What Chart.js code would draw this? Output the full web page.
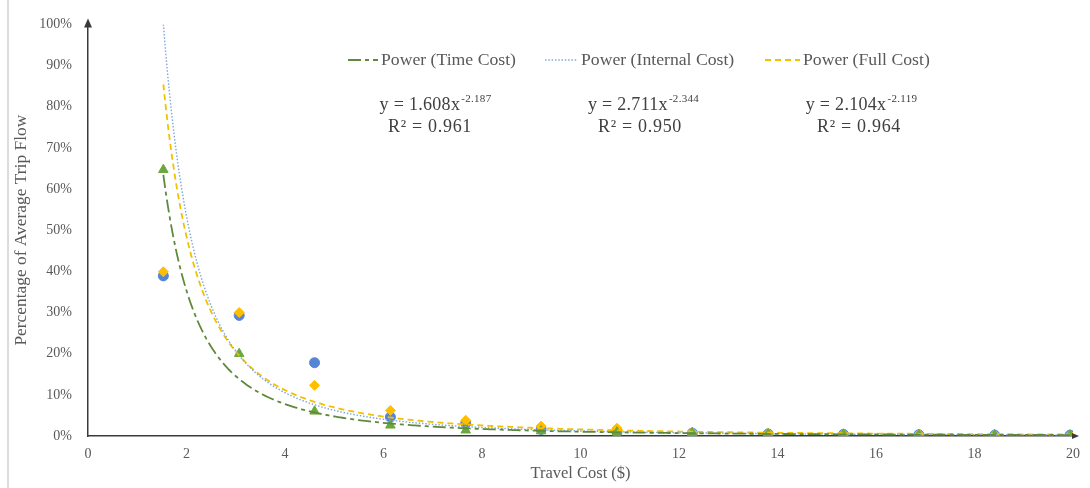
<!DOCTYPE html>
<html>
<head>
<meta charset="utf-8">
<script src="https://cdn.jsdelivr.net/npm/chart.js@4.4.1/dist/chart.umd.min.js"></script>
<style>
  html, body { margin: 0; padding: 0; background: #ffffff; }
  #wrap { position: relative; width: 1090px; height: 488px; }
  #edge { position: absolute; left: 7px; top: 0; width: 2px; height: 488px; background: #dcdcdc; }
</style>
</head>
<body>
<div id="wrap">
  <div id="edge"></div>
  <canvas id="chart" width="1090" height="488"></canvas>
</div>
<script>
// Travel cost ($) at each observation
const travelCost = [1.53, 3.07, 4.60, 6.14, 7.67, 9.20, 10.74, 12.27, 13.81, 15.34, 16.87, 18.41, 19.94];

// Share of average trip flow (fraction) for each cost measure
const timeCostShare     = [0.647, 0.200, 0.060, 0.026, 0.014, 0.012, 0.009, 0.008, 0.005, 0.004, 0.003, 0.003, 0.002];
const internalCostShare = [0.389, 0.293, 0.178, 0.046, 0.031, 0.016, 0.010, 0.007, 0.005, 0.004, 0.003, 0.002, 0.002];
const fullCostShare     = [0.399, 0.300, 0.123, 0.062, 0.038, 0.024, 0.019, 0.009, 0.006, 0.005, 0.004, 0.003, 0.002];

// Power trendlines y = a * x^b, with their R² values
const seriesNames = ['Time Cost', 'Internal Cost', 'Full Cost'];
const powerCoef   = [1.608, 2.711, 2.104];
const powerExp    = [-2.187, -2.344, -2.119];
const powerR2     = [0.961, 0.950, 0.964];

// Axis ticks
const xTicks = [0, 2, 4, 6, 8, 10, 12, 14, 16, 18, 20];
const yTicks = [0, 0.1, 0.2, 0.3, 0.4, 0.5, 0.6, 0.7, 0.8, 0.9, 1.0];

const SERIF = "'Liberation Serif', 'DejaVu Serif', serif";
const TEXT = '#595959';

function points(xs, ys) { return xs.map((x, i) => ({ x, y: ys[i] })); }

// Sample a fitted power curve across the observed cost range
function powerCurve(k) {
  const lo = travelCost[0], hi = travelCost[travelCost.length - 1];
  const n = 400, out = [];
  for (let i = 0; i <= n; i++) {
    const x = lo + (hi - lo) * i / n;
    out.push({ x, y: powerCoef[k] * Math.pow(x, powerExp[k]) });
  }
  return out;
}

const trendStyle = [
  { color: '#5f8a3c', dash: [13, 4, 4, 4], width: 1.8 },
  { color: '#7ea6e0', dash: [1.5, 1.8], width: 1.4 },
  { color: '#f2c200', dash: [6, 4], width: 1.8 }
];

const trendSets = [0, 1, 2].map(k => ({
  label: 'Power (' + seriesNames[k] + ')',
  data: powerCurve(k),
  showLine: true,
  pointRadius: 0,
  borderColor: trendStyle[k].color,
  borderDash: trendStyle[k].dash,
  borderWidth: trendStyle[k].width,
  tension: 0,
  fill: false
}));

// Earlier entries are painted above later ones
const markerSets = [
  { label: 'Time Cost', data: points(travelCost, timeCostShare), pointStyle: 'triangle', pointRadius: 5.5, backgroundColor: '#6aa83e', borderColor: '#6aa83e' },
  { label: 'Full Cost', data: points(travelCost, fullCostShare), pointStyle: 'rectRot', pointRadius: 5, backgroundColor: '#ffbf00', borderColor: '#ffbf00' },
  { label: 'Internal Cost', data: points(travelCost, internalCostShare), pointStyle: 'circle', pointRadius: 5, backgroundColor: '#5585d6', borderColor: '#5585d6' }
];

// Draw legend, fit equations and axis arrowheads
const annotate = {
  id: 'annotate',
  afterDraw(chart) {
    const ctx = chart.ctx;
    const area = chart.chartArea;
    ctx.save();

    // arrowheads on the axes
    ctx.fillStyle = '#3a3a3a';
    ctx.beginPath();
    ctx.moveTo(area.left, area.top - 6);
    ctx.lineTo(area.left - 4, area.top + 3);
    ctx.lineTo(area.left + 4, area.top + 3);
    ctx.closePath();
    ctx.fill();
    ctx.beginPath();
    ctx.moveTo(area.right + 6, area.bottom);
    ctx.lineTo(area.right - 1, area.bottom - 3);
    ctx.lineTo(area.right - 1, area.bottom + 3);
    ctx.closePath();
    ctx.fill();

    // legend for the trendlines
    const legendY = 60;
    const swatchX = [348, 545, 765];
    const swatchW = [30, 33, 35];
    ctx.font = '17.7px ' + SERIF;
    ctx.textBaseline = 'middle';
    ctx.textAlign = 'left';
    trendSets.forEach((ds, k) => {
      const x0 = swatchX[k];
      ctx.strokeStyle = trendStyle[k].color;
      ctx.lineWidth = trendStyle[k].width;
      ctx.setLineDash(trendStyle[k].dash);
      ctx.beginPath();
      ctx.moveTo(x0, legendY);
      ctx.lineTo(x0 + swatchW[k], legendY);
      ctx.stroke();
      ctx.setLineDash([]);
      ctx.fillStyle = TEXT;
      ctx.fillText(ds.label, x0 + swatchW[k] + 3, legendY);
    });

    // fitted equations with R²
    const eqCenter = [435, 643, 861];
    const r2Center = [430, 640, 859];
    const eqY = 105, r2Y = 127;
    [0, 1, 2].forEach(k => {
      const base = 'y = ' + powerCoef[k].toFixed(3) + 'x';
      const sup = powerExp[k].toFixed(3);
      ctx.letterSpacing = '0.3px';
      ctx.font = '18px ' + SERIF;
      const wBase = ctx.measureText(base).width;
      ctx.font = '11px ' + SERIF;
      const wSup = ctx.measureText(sup).width;
      const start = eqCenter[k] - (wBase + wSup) / 2;
      ctx.fillStyle = '#404040';
      ctx.textAlign = 'left';
      ctx.font = '18px ' + SERIF;
      ctx.fillText(base, start, eqY);
      ctx.font = '11px ' + SERIF;
      ctx.fillText(sup, start + wBase + 1, eqY - 6);
      ctx.letterSpacing = '0.7px';
      ctx.font = '18px ' + SERIF;
      ctx.textAlign = 'center';
      ctx.fillText('R\u00B2 = ' + powerR2[k].toFixed(3), r2Center[k], r2Y);
      ctx.letterSpacing = '0px';
    });
    ctx.restore();
  }
};

new Chart(document.getElementById('chart'), {
  type: 'scatter',
  data: { datasets: trendSets.concat(markerSets) },
  options: {
    responsive: false,
    animation: false,
    layout: { padding: { top: 20, right: 13, left: 0, bottom: 0 } },
    plugins: { legend: { display: false }, tooltip: { enabled: false } },
    scales: {
      x: {
        type: 'linear', min: 0, max: 20,
        afterBuildTicks: axis => { axis.ticks = xTicks.map(v => ({ value: v })); },
        afterFit: axis => { axis.height = 52; },
        grid: { display: false, drawTicks: false },
        border: { display: true, color: '#3a3a3a', width: 1.5 },
        ticks: { color: TEXT, padding: 10, font: { family: SERIF, size: 14 } },
        title: { display: true, text: 'Travel Cost ($)', color: TEXT, padding: { top: 0, bottom: 4 }, font: { family: SERIF, size: 16.5 } }
      },
      y: {
        type: 'linear', min: 0, max: 1,
        afterBuildTicks: axis => { axis.ticks = yTicks.map(v => ({ value: v })); },
        afterFit: axis => { axis.width = 88; },
        grid: { display: false, drawTicks: false },
        border: { display: true, color: '#3a3a3a', width: 1.5 },
        ticks: { color: TEXT, padding: 16, font: { family: SERIF, size: 14 }, callback: v => Math.round(v * 100) + '%' },
        title: { display: true, text: 'Percentage of Average Trip Flow', color: TEXT, padding: { top: 11, bottom: 0 }, font: { family: SERIF, size: 17.4 } }
      }
    }
  },
  plugins: [annotate]
});
</script>
</body>
</html>
